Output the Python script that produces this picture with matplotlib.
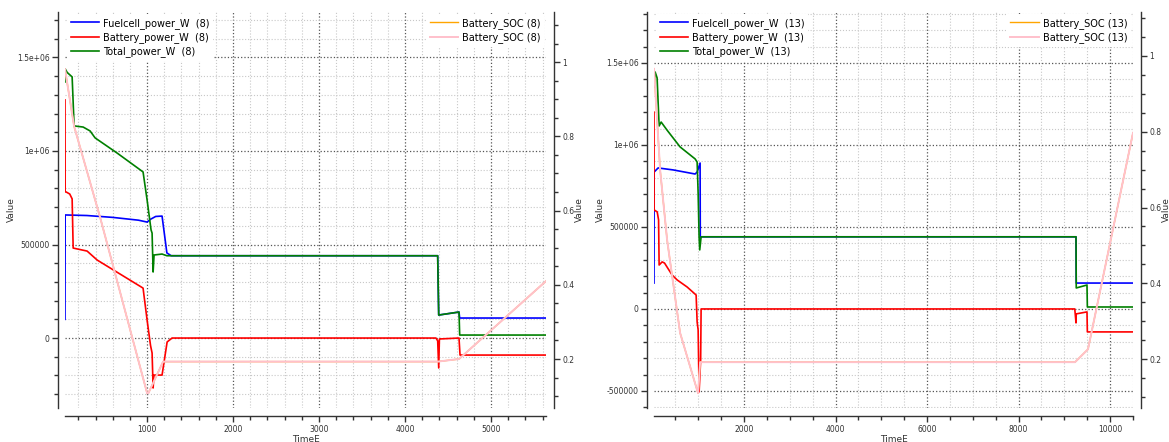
import matplotlib
matplotlib.use("Agg")
import matplotlib.pyplot as plt
from matplotlib.ticker import MultipleLocator, FuncFormatter

# ---- run (8) ----
t8_fc = [45, 47, 300, 600, 900, 1000, 1040, 1100, 1174, 1230, 1280, 4380, 4392, 4628, 4636, 5640]
fc8 = [100000, 658000, 655000, 645000, 630000, 620000, 635000, 650000, 652000, 455000, 440000,
       440000, 123000, 139000, 107000, 107000]

t8_bat = [45, 47, 58, 100, 128, 140, 302, 419, 953, 1000, 1040, 1058, 1070, 1080, 1174, 1233, 1290,
          4360, 4380, 4392, 4400, 4628, 4640, 5640]
bat8 = [1273000, 781000, 781000, 770000, 744000, 481000, 465000, 417000, 267000, 96000, -40000,
        -80000, -267000, -198000, -198000, -21000, 0, 0, -15000, -160000, -5000, 0, -91000, -91000]

t8_tot = [45, 47, 70, 128, 151, 256, 337, 395, 651, 953, 1000, 1046, 1058, 1070, 1081, 1174, 1230,
          4380, 4392, 4628, 4636, 5640]
tot8 = [1369000, 1439000, 1420000, 1396000, 1134000, 1128000, 1107000, 1070000, 989000, 888000,
        738000, 578000, 561000, 353000, 444000, 449000, 440000, 440000, 123000, 139000, 16000, 16000]

t8_soc = [45, 151, 453, 1000, 1015, 1186, 4380, 4628, 5640]
soc8 = [0.981, 0.827, 0.582, 0.108, 0.108, 0.193, 0.193, 0.200, 0.410]

# ---- run (13) ----
t13_fc = [30, 33, 120, 448, 929, 973, 1038, 1042, 1060, 9257, 9262, 10503]
fc13 = [158000, 835000, 860000, 848000, 823000, 835000, 890000, 433000, 440000, 440000, 158000, 158000]

t13_bat = [30, 33, 100, 130, 142, 208, 260, 426, 536, 754, 951, 973, 995, 1016, 1050, 1060,
           9230, 9257, 9262, 9497, 9505, 10503]
bat13 = [1200000, 604000, 592000, 543000, 268000, 287000, 280000, 207000, 177000, 134000, 85000,
         -79000, -128000, -506000, -311000, 0, 0, -85000, -30000, -18000, -140000, -140000]

t13_tot = [30, 55, 98, 142, 186, 317, 601, 929, 973, 995, 1016, 1030, 1060, 9257, 9262, 9497,
           9505, 10503]
tot13 = [1354000, 1445000, 1409000, 1116000, 1140000, 1090000, 988000, 915000, 896000, 707000,
         440000, 360000, 440000, 440000, 128000, 146000, 12000, 12000]

t13_soc = [30, 164, 317, 601, 973, 995, 1038, 9235, 9519, 10503]
soc13 = [0.966, 0.699, 0.514, 0.269, 0.118, 0.110, 0.192, 0.192, 0.226, 0.797]

GRID_MAJ = "#555555"
GRID_MIN = "#c8c8c8"
AX_COL = "#333333"


def style_axes(ax, ax2, xmaj, xmin):
    for s in ["top", "right"]:
        ax.spines[s].set_visible(False)
    for s in ["top", "left", "bottom"]:
        ax2.spines[s].set_visible(False)
    ax.spines["left"].set_position(("outward", 5))
    ax.spines["bottom"].set_position(("outward", 6))
    ax2.spines["right"].set_position(("outward", 6))
    for sp in [ax.spines["left"], ax.spines["bottom"], ax2.spines["right"]]:
        sp.set_color(AX_COL)
        sp.set_linewidth(1.0)

    ax.xaxis.set_major_locator(MultipleLocator(xmaj))
    ax.xaxis.set_minor_locator(MultipleLocator(xmin))
    ax.yaxis.set_major_locator(MultipleLocator(500000))
    ax.yaxis.set_minor_locator(MultipleLocator(100000))
    ax.yaxis.set_major_formatter(FuncFormatter(lambda v, p: f"{v:g}"))
    ax2.yaxis.set_major_locator(MultipleLocator(0.2))
    ax2.yaxis.set_minor_locator(MultipleLocator(0.05))
    ax2.yaxis.set_major_formatter(FuncFormatter(lambda v, p: f"{v:g}"))

    for a in [ax, ax2]:
        a.tick_params(which="major", length=4, width=1, color=AX_COL, labelsize=5.5,
                      labelcolor=AX_COL, pad=2)
        a.tick_params(which="minor", length=3, width=1, color=AX_COL)

    ax.grid(which="major", linestyle=":", color=GRID_MAJ, linewidth=0.9)
    ax.grid(which="minor", linestyle=":", color=GRID_MIN, linewidth=0.8)
    ax.set_axisbelow(True)

    ax.set_xlabel("TimeE", fontsize=6.5, color=AX_COL, labelpad=1)
    ax.set_ylabel("Value", fontsize=6.5, color=AX_COL, labelpad=1)
    ax2.set_ylabel("Value", fontsize=6.5, color=AX_COL, labelpad=0)


def draw_panel(rect, tag, t_fc, fc, t_bat, bat, t_tot, tot, t_soc, soc, xmaj, xmin, ylim, ylim2):
    ax = fig.add_axes(rect)
    ax2 = ax.twinx()
    h1, = ax.plot(t_fc, fc, color="#0000ff", lw=1.2, label=f"Fuelcell_power_W  ({tag})")
    h2, = ax.plot(t_bat, bat, color="#ff0000", lw=1.2, label=f"Battery_power_W  ({tag})")
    h3, = ax.plot(t_tot, tot, color="#008000", lw=1.2, label=f"Total_power_W  ({tag})")
    h4, = ax2.plot(t_soc, soc, color="#ffa500", lw=1.0, label=f"Battery_SOC ({tag})")
    h5, = ax2.plot(t_soc, soc, color="#ffc0cb", lw=1.4, label=f"Battery_SOC ({tag})")
    ax.set_xlim(min(t_fc), max(t_fc))
    ax.set_ylim(*ylim)
    ax2.set_ylim(*ylim2)
    style_axes(ax, ax2, xmaj, xmin)

    leg_kw = dict(fontsize=7, frameon=True, facecolor="white", edgecolor="none", framealpha=1,
                  fancybox=False, handlelength=2.9, handletextpad=0.4, labelspacing=0.35,
                  borderaxespad=0.2, borderpad=0.4)
    leg1 = ax2.legend(handles=[h1, h2, h3], loc="upper left", **leg_kw)
    ax2.add_artist(leg1)
    ax2.legend(handles=[h4, h5], loc="upper right", **leg_kw)
    return ax, ax2


fig = plt.figure(figsize=(11.69, 4.42), dpi=100)

draw_panel([65 / 1169, 34 / 442, 481 / 1169, 396 / 442], 8,
           t8_fc, fc8, t8_bat, bat8, t8_tot, tot8, t8_soc, soc8,
           1000, 200, (-374000, 1743000), (0.068, 1.135))
draw_panel([654 / 1169, 34 / 442, 479 / 1169, 396 / 442], 13,
           t13_fc, fc13, t13_bat, bat13, t13_tot, tot13, t13_soc, soc13,
           2000, 500, (-604000, 1811000), (0.071, 1.116))

fig.savefig("out.png", dpi=100)
